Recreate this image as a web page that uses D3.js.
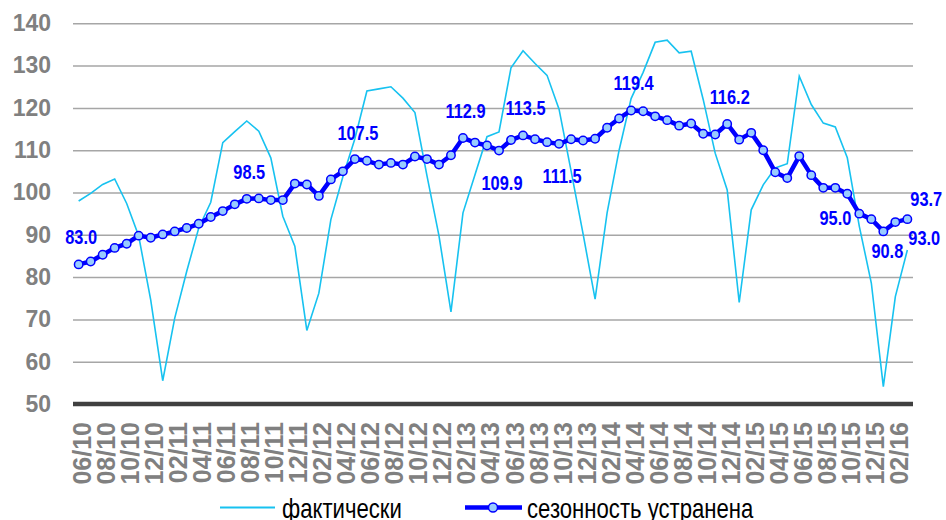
<!DOCTYPE html>
<html>
<head>
<meta charset="utf-8">
<script src="https://cdn.jsdelivr.net/npm/d3@7"></script>
<style>
  body { margin: 0; background: #fff; }
</style>
</head>
<body>
<div id="chart"></div>
<script>
var months = [
  "06/10", "07/10", "08/10", "09/10", "10/10", "11/10", "12/10",
  "01/11", "02/11", "03/11", "04/11", "05/11", "06/11", "07/11", "08/11", "09/11", "10/11", "11/11", "12/11",
  "01/12", "02/12", "03/12", "04/12", "05/12", "06/12", "07/12", "08/12", "09/12", "10/12", "11/12", "12/12",
  "01/13", "02/13", "03/13", "04/13", "05/13", "06/13", "07/13", "08/13", "09/13", "10/13", "11/13", "12/13",
  "01/14", "02/14", "03/14", "04/14", "05/14", "06/14", "07/14", "08/14", "09/14", "10/14", "11/14", "12/14",
  "01/15", "02/15", "03/15", "04/15", "05/15", "06/15", "07/15", "08/15", "09/15", "10/15", "11/15", "12/15",
  "01/16", "02/16", "03/16"
];

// фактически
var actual = [
  98.0, 99.8, 101.9, 103.2, 97.4, 89.7, 74.6,
  55.5, 70.3, 81.4, 91.6, 97.7, 111.8, 114.4, 116.9, 114.5, 108.2, 94.4, 87.3,
  67.4, 76.2, 93.6, 103.7, 112.7, 124.0, 124.5, 125.0, 122.3, 118.9, 104.0, 89.8,
  71.8, 95.2, 104.2, 113.2, 114.3, 129.5, 133.5, 130.5, 127.7, 119.7, 105.1, 90.2,
  74.8, 95.2, 110.0, 122.2, 128.4, 135.5, 136.0, 133.0, 133.4, 122.0, 109.3, 100.6,
  74.0, 95.9, 101.8, 105.8, 106.8, 127.5, 120.8, 116.4, 115.5, 108.2, 92.0, 78.6,
  54.1, 75.4, 86.4
];

// сезонность устранена
var adjusted = [
  83.0, 83.7, 85.3, 86.9, 87.9, 89.8, 89.3,
  90.1, 90.8, 91.6, 92.6, 94.2, 95.6, 97.2, 98.5, 98.6, 98.2, 98.2, 102.1,
  101.9, 99.2, 103.1, 105.0, 107.9, 107.5, 106.6, 107.0, 106.6, 108.5, 107.9, 106.6,
  108.8, 112.9, 111.8, 111.1, 109.9, 112.4, 113.5, 112.6, 111.9, 111.5, 112.6, 112.3,
  112.7, 115.3, 117.5, 119.4, 119.2, 118.0, 117.1, 115.8, 116.3, 113.9, 113.7, 116.2,
  112.5, 114.1, 110.0, 104.8, 103.4, 108.6, 104.1, 101.1, 101.1, 99.7, 95.0, 93.7,
  90.8, 93.0, 93.7
];

var yTicks = [50, 60, 70, 80, 90, 100, 110, 120, 130, 140];
var xTicks = months.filter(function (d, i) { return i % 2 === 0; });

// points of the adjusted series that carry a value label
var labelled = [
  [0, "above"], [14, "above"], [24, "aboveLeft"], [32, "above"], [35, "below"],
  [37, "above"], [40, "below"], [46, "above"], [54, "above"], [65, "left"],
  [67, "under"], [68, "farRight"], [69, "right"]
];

var legendNames = ["фактически", "сезонность устранена"];

var width = 946;
var height = 520;
var plotLeft = 73, plotRight = 913, plotTop = 23.3, plotBottom = 404;
var narrow = 0.82; // reference uses a narrow face

var cyan = "#17c2f0";
var blue = "#0000ff";
var markerFill = "#99ccff";
var grey = "#808080";

var placements = {
  above:     { anchor: "middle", dx: 2.5, dy: -20 },
  aboveLeft: { anchor: "middle", dx: -9,  dy: -21 },
  below:     { anchor: "middle", dx: 3,   dy: 39 },
  under:     { anchor: "middle", dx: 4,   dy: 27 },
  left:      { anchor: "end",    dx: -8,  dy: 11 },
  right:     { anchor: "start",  dx: 3,   dy: -13 },
  farRight:  { anchor: "start",  dx: 13,  dy: 23 }
};

var svg = d3.select("#chart")
  .append("svg")
  .attr("width", width)
  .attr("height", height)
  .style("display", "block");

svg.append("rect").attr("width", width).attr("height", height).attr("fill", "#fff");

var x = d3.scalePoint().domain(months).range([plotLeft, plotRight]).padding(0.47);
var y = d3.scaleLinear().domain([50, 140]).range([plotBottom, plotTop]);

/* y axis with gridlines */
var yAxis = svg.append("g")
  .attr("transform", "translate(" + plotLeft + ",0)")
  .call(d3.axisLeft(y).tickValues(yTicks).tickSize(-(plotRight - plotLeft)).tickPadding(22).tickFormat(d3.format("d")));
yAxis.select(".domain").remove();
yAxis.selectAll(".tick line")
  .attr("stroke", "#a6a6a6")
  .attr("stroke-width", 1.5)
  .attr("opacity", function (d) { return d === 50 ? 0 : 1; });
yAxis.selectAll(".tick text")
  .attr("fill", grey)
  .style("font-family", "'Liberation Sans', Arial, sans-serif")
  .style("font-size", "23px")
  .style("font-weight", "bold");

/* x axis labels */
var xAxis = svg.append("g")
  .attr("transform", "translate(0," + plotBottom + ")")
  .call(d3.axisBottom(x).tickValues(xTicks).tickSize(0));
xAxis.select(".domain").remove();
xAxis.selectAll(".tick text")
  .attr("transform", "rotate(-90)")
  .attr("x", -18)
  .attr("y", 0)
  .attr("dy", "0.48em")
  .style("text-anchor", "end")
  .attr("fill", grey)
  .style("font-family", "'Liberation Sans', Arial, sans-serif")
  .style("font-size", "25px")
  .style("font-weight", "bold");

/* thick base line */
svg.append("line")
  .attr("x1", plotLeft).attr("x2", plotRight)
  .attr("y1", y(50)).attr("y2", y(50))
  .attr("stroke", "#404040")
  .attr("stroke-width", 4.5);

var line = d3.line()
  .x(function (d, i) { return x(months[i]); })
  .y(function (d) { return y(d); });

svg.append("path")
  .datum(actual)
  .attr("d", line)
  .attr("fill", "none")
  .attr("stroke", cyan)
  .attr("stroke-width", 1.6);

svg.append("path")
  .datum(adjusted)
  .attr("d", line)
  .attr("fill", "none")
  .attr("stroke", blue)
  .attr("stroke-width", 4.5)
  .attr("stroke-linejoin", "round");

svg.append("g")
  .selectAll("circle")
  .data(adjusted)
  .enter()
  .append("circle")
  .attr("cx", function (d, i) { return x(months[i]); })
  .attr("cy", function (d) { return y(d); })
  .attr("r", 4.2)
  .attr("fill", markerFill)
  .attr("stroke", blue)
  .attr("stroke-width", 1.5);

/* value labels */
svg.append("g")
  .selectAll("text")
  .data(labelled)
  .enter()
  .append("text")
  .attr("transform", function (d) {
    var p = placements[d[1]];
    return "translate(" + (x(months[d[0]]) + p.dx) + "," + (y(adjusted[d[0]]) + p.dy) + ") scale(" + narrow + ",1)";
  })
  .attr("text-anchor", function (d) { return placements[d[1]].anchor; })
  .attr("fill", blue)
  .style("font-family", "'Liberation Sans', Arial, sans-serif")
  .style("font-size", "20px")
  .style("font-weight", "bold")
  .text(function (d) { return adjusted[d[0]].toFixed(1); });

/* legend */
var legend = svg.append("g");
legend.append("line")
  .attr("x1", 220).attr("x2", 275).attr("y1", 507.5).attr("y2", 507.5)
  .attr("stroke", cyan).attr("stroke-width", 2);
legend.append("line")
  .attr("x1", 465).attr("x2", 522).attr("y1", 507.5).attr("y2", 507.5)
  .attr("stroke", blue).attr("stroke-width", 4.5);
legend.append("circle")
  .attr("cx", 493).attr("cy", 507.5).attr("r", 4.5)
  .attr("fill", markerFill).attr("stroke", blue).attr("stroke-width", 1.5);
legend.selectAll("text")
  .data(legendNames)
  .enter()
  .append("text")
  .attr("transform", function (d, i) { return "translate(" + [282, 527][i] + ",518) scale(" + narrow + ",1)"; })
  .attr("fill", "#000")
  .style("font-family", "'Liberation Sans', Arial, sans-serif")
  .style("font-size", "27px")
  .text(function (d) { return d; });
</script>
</body>
</html>
